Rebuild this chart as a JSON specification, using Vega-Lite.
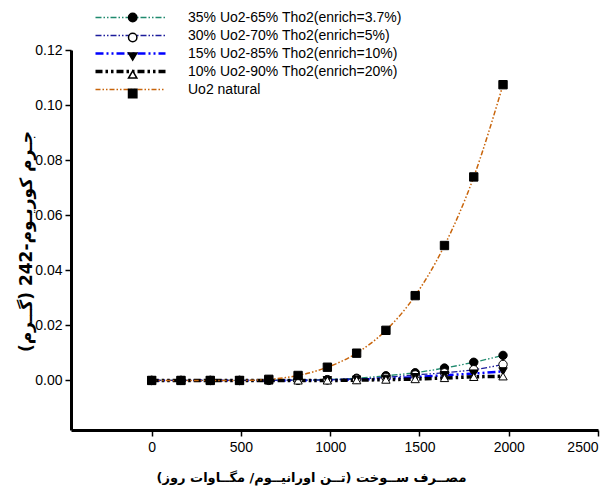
{
  "$schema": "https://vega.github.io/schema/vega-lite/v6.json",
  "autosize": "none",
  "width": 527,
  "height": 380,
  "padding": {"left": 71, "top": 50, "right": 16, "bottom": 58},
  "background": "white",
  "config": {
    "view": {"stroke": null},
    "axis": {"grid": false, "domainColor": "black", "domainWidth": 3, "tickColor": "black", "tickWidth": 1.5, "tickSize": 6, "labelFont": "Liberation Sans", "labelFontSize": 14, "labelColor": "black", "titleFont": "DejaVu Sans", "titleFontSize": 13, "titleFontWeight": "bold", "titleColor": "black"}
  },
  "data": {"values": [
    {"s": "35% Uo2-65% Tho2(enrich=3.7%)", "x": 0, "y": 0},
    {"s": "35% Uo2-65% Tho2(enrich=3.7%)", "x": 164, "y": 0},
    {"s": "35% Uo2-65% Tho2(enrich=3.7%)", "x": 328, "y": 0},
    {"s": "35% Uo2-65% Tho2(enrich=3.7%)", "x": 492, "y": 0},
    {"s": "35% Uo2-65% Tho2(enrich=3.7%)", "x": 656, "y": 0.0001},
    {"s": "35% Uo2-65% Tho2(enrich=3.7%)", "x": 820, "y": 0.0001},
    {"s": "35% Uo2-65% Tho2(enrich=3.7%)", "x": 984, "y": 0.0003},
    {"s": "35% Uo2-65% Tho2(enrich=3.7%)", "x": 1148, "y": 0.0008},
    {"s": "35% Uo2-65% Tho2(enrich=3.7%)", "x": 1312, "y": 0.0017},
    {"s": "35% Uo2-65% Tho2(enrich=3.7%)", "x": 1476, "y": 0.0028},
    {"s": "35% Uo2-65% Tho2(enrich=3.7%)", "x": 1640, "y": 0.0045},
    {"s": "35% Uo2-65% Tho2(enrich=3.7%)", "x": 1804, "y": 0.0066},
    {"s": "35% Uo2-65% Tho2(enrich=3.7%)", "x": 1968, "y": 0.0091},
    {"s": "30% Uo2-70% Tho2(enrich=5%)", "x": 0, "y": 0},
    {"s": "30% Uo2-70% Tho2(enrich=5%)", "x": 164, "y": 0},
    {"s": "30% Uo2-70% Tho2(enrich=5%)", "x": 328, "y": 0},
    {"s": "30% Uo2-70% Tho2(enrich=5%)", "x": 492, "y": 0},
    {"s": "30% Uo2-70% Tho2(enrich=5%)", "x": 656, "y": 0},
    {"s": "30% Uo2-70% Tho2(enrich=5%)", "x": 820, "y": 0.0001},
    {"s": "30% Uo2-70% Tho2(enrich=5%)", "x": 984, "y": 0.0002},
    {"s": "30% Uo2-70% Tho2(enrich=5%)", "x": 1148, "y": 0.0005},
    {"s": "30% Uo2-70% Tho2(enrich=5%)", "x": 1312, "y": 0.0011},
    {"s": "30% Uo2-70% Tho2(enrich=5%)", "x": 1476, "y": 0.0020},
    {"s": "30% Uo2-70% Tho2(enrich=5%)", "x": 1640, "y": 0.0028},
    {"s": "30% Uo2-70% Tho2(enrich=5%)", "x": 1804, "y": 0.0039},
    {"s": "30% Uo2-70% Tho2(enrich=5%)", "x": 1968, "y": 0.0058},
    {"s": "15% Uo2-85% Tho2(enrich=10%)", "x": 0, "y": 0},
    {"s": "15% Uo2-85% Tho2(enrich=10%)", "x": 164, "y": 0},
    {"s": "15% Uo2-85% Tho2(enrich=10%)", "x": 328, "y": 0},
    {"s": "15% Uo2-85% Tho2(enrich=10%)", "x": 492, "y": 0},
    {"s": "15% Uo2-85% Tho2(enrich=10%)", "x": 656, "y": 0},
    {"s": "15% Uo2-85% Tho2(enrich=10%)", "x": 820, "y": 0},
    {"s": "15% Uo2-85% Tho2(enrich=10%)", "x": 984, "y": 0.0001},
    {"s": "15% Uo2-85% Tho2(enrich=10%)", "x": 1148, "y": 0.0003},
    {"s": "15% Uo2-85% Tho2(enrich=10%)", "x": 1312, "y": 0.0006},
    {"s": "15% Uo2-85% Tho2(enrich=10%)", "x": 1476, "y": 0.0012},
    {"s": "15% Uo2-85% Tho2(enrich=10%)", "x": 1640, "y": 0.0019},
    {"s": "15% Uo2-85% Tho2(enrich=10%)", "x": 1804, "y": 0.0025},
    {"s": "15% Uo2-85% Tho2(enrich=10%)", "x": 1968, "y": 0.0033},
    {"s": "10% Uo2-90% Tho2(enrich=20%)", "x": 0, "y": 0},
    {"s": "10% Uo2-90% Tho2(enrich=20%)", "x": 164, "y": 0},
    {"s": "10% Uo2-90% Tho2(enrich=20%)", "x": 328, "y": 0},
    {"s": "10% Uo2-90% Tho2(enrich=20%)", "x": 492, "y": 0},
    {"s": "10% Uo2-90% Tho2(enrich=20%)", "x": 656, "y": 0},
    {"s": "10% Uo2-90% Tho2(enrich=20%)", "x": 820, "y": 0},
    {"s": "10% Uo2-90% Tho2(enrich=20%)", "x": 984, "y": 0},
    {"s": "10% Uo2-90% Tho2(enrich=20%)", "x": 1148, "y": 0.0001},
    {"s": "10% Uo2-90% Tho2(enrich=20%)", "x": 1312, "y": 0.0003},
    {"s": "10% Uo2-90% Tho2(enrich=20%)", "x": 1476, "y": 0.0005},
    {"s": "10% Uo2-90% Tho2(enrich=20%)", "x": 1640, "y": 0.0009},
    {"s": "10% Uo2-90% Tho2(enrich=20%)", "x": 1804, "y": 0.0013},
    {"s": "10% Uo2-90% Tho2(enrich=20%)", "x": 1968, "y": 0.0015},
    {"s": "Uo2 natural", "x": 0, "y": 0},
    {"s": "Uo2 natural", "x": 164, "y": 0},
    {"s": "Uo2 natural", "x": 328, "y": 0},
    {"s": "Uo2 natural", "x": 492, "y": 0},
    {"s": "Uo2 natural", "x": 656, "y": 0.0004},
    {"s": "Uo2 natural", "x": 820, "y": 0.0018},
    {"s": "Uo2 natural", "x": 984, "y": 0.0048},
    {"s": "Uo2 natural", "x": 1148, "y": 0.0099},
    {"s": "Uo2 natural", "x": 1312, "y": 0.0182},
    {"s": "Uo2 natural", "x": 1476, "y": 0.0308},
    {"s": "Uo2 natural", "x": 1640, "y": 0.0490},
    {"s": "Uo2 natural", "x": 1804, "y": 0.0739},
    {"s": "Uo2 natural", "x": 1968, "y": 0.1074}
  ]},
  "encoding": {
    "x": {"field": "x", "type": "quantitative", "scale": {"domain": [-452, 2500], "nice": false, "zero": false},
      "axis": {"values": [0, 500, 1000, 1500, 2000, 2500], "format": "d", "labelPadding": 4, "title": "مصــرف ســوخت (تــن اورانیــوم/ مگــاوات روز)", "titleX": 240, "titleY": 47, "titleBaseline": "middle"}},
    "y": {"field": "y", "type": "quantitative", "scale": {"domain": [-0.018, 0.12], "nice": false, "zero": false},
      "axis": {"values": [0, 0.02, 0.04, 0.06, 0.08, 0.1, 0.12], "format": ".2f", "labelPadding": 3, "title": "جـرم کوریـوم-242 (گــرم)", "titleX": -45, "titleY": 191, "titleAngle": -90, "titleAlign": "center", "titleBaseline": "middle", "titleFontSize": 17}}
  },
  "layer": [
    {
      "mark": {"type": "line", "interpolate": "monotone"},
      "encoding": {
        "color": {"field": "s", "type": "nominal",
          "scale": {"domain": ["35% Uo2-65% Tho2(enrich=3.7%)", "30% Uo2-70% Tho2(enrich=5%)", "15% Uo2-85% Tho2(enrich=10%)", "10% Uo2-90% Tho2(enrich=20%)", "Uo2 natural"], "range": ["#1f8a6e", "#1c1c9c", "#0000ff", "#000000", "#c8640a"]},
          "legend": {"orient": "none", "legendX": 52.5, "legendY": -39.5, "title": null, "symbolType": "M-7,0H7", "symbolSize": 100, "labelFont": "Liberation Sans", "labelFontSize": 14, "labelColor": "black", "labelOffset": 50.5, "labelLimit": 400, "rowPadding": 4, "padding": 0}},
        "strokeDash": {"field": "s", "type": "nominal",
          "scale": {"domain": ["35% Uo2-65% Tho2(enrich=3.7%)", "30% Uo2-70% Tho2(enrich=5%)", "15% Uo2-85% Tho2(enrich=10%)", "10% Uo2-90% Tho2(enrich=20%)", "Uo2 natural"], "range": [[6, 2, 1.5, 2, 1.5, 2], [6, 2, 1.5, 2, 1.5, 2], [8, 3, 2, 3, 2, 3], [7, 3, 2.5, 3, 2.5, 3], [5, 2, 1.5, 2, 1.5, 2]]},
          "legend": {"orient": "none", "legendX": 52.5, "legendY": -39.5, "title": null}},
        "strokeWidth": {"field": "s", "type": "nominal",
          "scale": {"type": "ordinal", "domain": ["35% Uo2-65% Tho2(enrich=3.7%)", "30% Uo2-70% Tho2(enrich=5%)", "15% Uo2-85% Tho2(enrich=10%)", "10% Uo2-90% Tho2(enrich=20%)", "Uo2 natural"], "range": [1.3, 1.3, 2.5, 3.5, 1.5]},
          "legend": {"orient": "none", "legendX": 52.5, "legendY": -39.5, "title": null}}
      }
    },
    {
      "mark": {"type": "point", "filled": false, "stroke": "black", "strokeWidth": 1, "size": 70, "opacity": 1},
      "encoding": {
        "shape": {"field": "s", "type": "nominal",
          "scale": {"domain": ["35% Uo2-65% Tho2(enrich=3.7%)", "30% Uo2-70% Tho2(enrich=5%)", "15% Uo2-85% Tho2(enrich=10%)", "10% Uo2-90% Tho2(enrich=20%)", "Uo2 natural"], "range": ["circle", "circle", "triangle-down", "triangle-up", "square"]},
          "legend": {"orient": "none", "legendX": 54.7, "legendY": -39.5, "title": null, "symbolSize": 70, "labelFont": "Liberation Sans", "labelFontSize": 14, "labelOpacity": 0, "labelLimit": 400, "rowPadding": 4, "padding": 0, "labelOffset": 21,
            "encode": {"symbols": {"update": {
              "stroke": {"value": "black"},
              "strokeWidth": {"value": 1},
              "opacity": {"value": 1},
              "fillOpacity": {"value": 1},
              "strokeOpacity": {"value": 1},
              "fill": [{"test": "datum.value === '30% Uo2-70% Tho2(enrich=5%)' || datum.value === '10% Uo2-90% Tho2(enrich=20%)'", "value": "#ffffff"}, {"value": "#000000"}]
            }}}}},
        "fill": {"field": "s", "type": "nominal",
          "scale": {"domain": ["35% Uo2-65% Tho2(enrich=3.7%)", "30% Uo2-70% Tho2(enrich=5%)", "15% Uo2-85% Tho2(enrich=10%)", "10% Uo2-90% Tho2(enrich=20%)", "Uo2 natural"], "range": ["#000000", "#ffffff", "#000000", "#ffffff", "#000000"]},
          "legend": null}
      }
    }
  ],
  "resolve": {"legend": {"color": "independent", "strokeDash": "independent", "strokeWidth": "independent", "shape": "independent", "fill": "independent"}}
}
